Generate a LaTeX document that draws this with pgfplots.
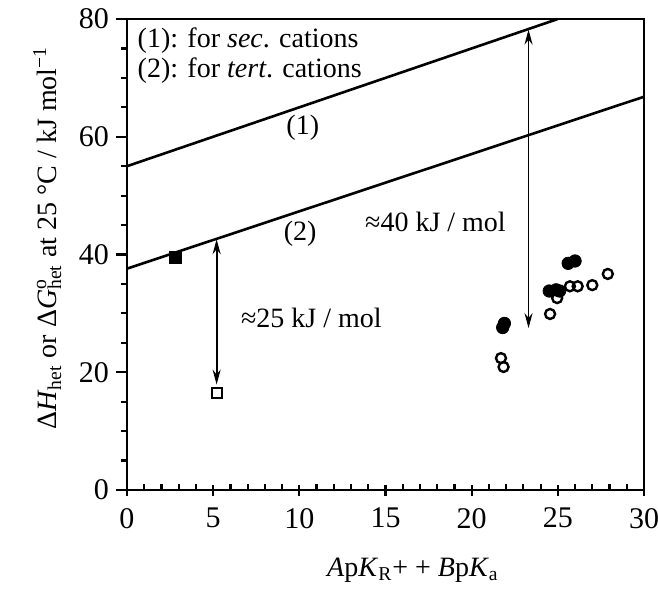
\documentclass[border=0pt]{standalone}
\usepackage{fontspec}
\setmainfont{Liberation Serif}
\usepackage{pgfplots}
\pgfplotsset{compat=1.18}
\usetikzlibrary{arrows.meta}
\begin{document}
\begin{tikzpicture}
\path[use as bounding box] (-63.5pt,-53pt) rectangle (265.5pt,245pt);
\begin{axis}[
  scale only axis, width=258.5pt, height=235.5pt,
  xmin=0, xmax=30, ymin=0, ymax=80,
  xtick={0,5,...,30}, ytick={0,20,...,80},
  minor x tick num=4, minor y tick num=3,
  xtick pos=bottom, ytick pos=left,
  tick align=outside,
  major tick length=5.5pt, minor tick length=3pt,
  major x tick style={yshift=2.5pt},
  minor x tick style={yshift=3pt},
  axis line style={line width=1.4pt},
  every tick/.style={black, line width=1.1pt},
  /pgf/number format/assume math mode=true,
  tick label style={font=\fontsize{15}{18}\selectfont},
  label style={font=\fontsize{14}{17}\selectfont},
  xlabel={\textit{A}p\textit{K}\textsubscript{R}+ + \textit{B}p\textit{K}\textsubscript{a}},
  ylabel={Δ\textit{H}\textsubscript{het} or Δ\textit{G}\rlap{\textsuperscript{o}}\textsubscript{het} at 25 °C / kJ mol\textsuperscript{−1}},
  xlabel style={at={(ticklabel cs:0.553)}, anchor=north, yshift=-8pt},
  ylabel style={at={(ticklabel cs:0.535)}, anchor=south, yshift=2pt},
  clip=true,
]
\addplot[black, line width=1.3pt] coordinates {(0,55) (25,80)};
\addplot[black, line width=1.3pt] coordinates {(0,37.6) (30,66.8)};
\addplot[black, line width=0.9pt, {Stealth[length=7.5pt,width=4pt]}-{Stealth[length=7.5pt,width=4pt]}] coordinates {(5.2,42.6) (5.2,17.9)};
\addplot[black, line width=0.9pt, {Stealth[length=7.5pt,width=4pt]}-{Stealth[length=7.5pt,width=4pt]}] coordinates {(23.3,78.2) (23.3,27.5)};
% squares
\addplot[only marks, mark=square*, mark size=2.9pt, black] coordinates {(2.8,39.5)};
\addplot[only marks, mark=square, mark size=2.5pt, black, mark options={line width=1pt, fill=white}] coordinates {(5.2,16.5)};
% filled circles
\addplot[only marks, mark=*, mark size=3.1pt, black] coordinates {
(21.8,27.6) (21.9,28.3) (24.5,33.8) (24.9,34.0) (25.1,33.8) (25.6,38.5) (26.0,38.9)};
% open circles
\addplot[only marks, mark=o, mark size=2.5pt, black, mark options={line width=1.2pt, fill=white}] coordinates {
(21.7,22.4) (21.85,20.9) (24.55,29.9) (24.96,32.6) (25.7,34.6) (26.15,34.6) (27.0,34.8) (27.9,36.7)};
\node[font=\fontsize{14}{17}\selectfont] at (axis cs:10.2,61.5) {(1)};
\node[font=\fontsize{14}{17}\selectfont] at (axis cs:10.05,43.5) {(2)};
\node[font=\fontsize{14}{17}\selectfont] at (axis cs:17.9,45.5) {≈40 kJ / mol};
\node[font=\fontsize{14}{17}\selectfont] at (axis cs:10.7,29.3) {≈25 kJ / mol};
\node[font=\fontsize{14}{17}\selectfont, anchor=west, align=left, inner sep=0pt] at (axis cs:0.6,73.8) {(1): for \textit{sec}. cations\\[-2pt](2): for \textit{tert}. cations};
\end{axis}
\end{tikzpicture}
\end{document}
